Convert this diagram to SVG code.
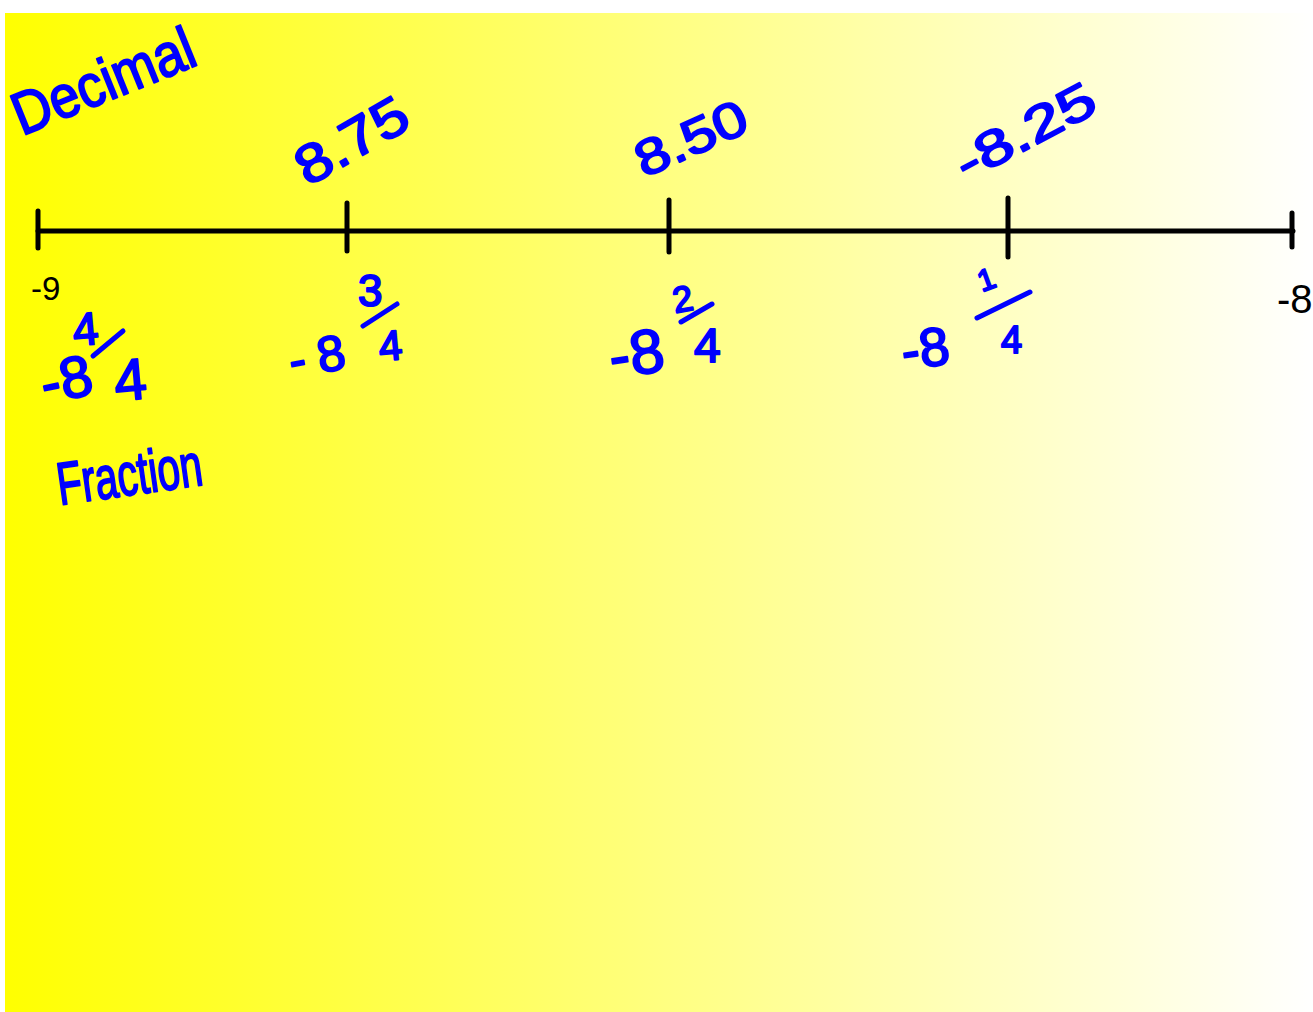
<svg xmlns="http://www.w3.org/2000/svg" width="1313" height="1012" viewBox="0 0 1313 1012">
<defs>
<linearGradient id="bg" x1="0" y1="0" x2="1" y2="0">
<stop offset="0" stop-color="#FFFF00"/>
<stop offset="1" stop-color="#FFFFFF"/>
</linearGradient>
</defs>
<style>
.hw{font-family:"Liberation Sans",Arial,sans-serif;fill:#0000FF;stroke:#0000FF;stroke-width:2;stroke-linejoin:round}
.bar{stroke:#0000FF;stroke-width:5;stroke-linecap:round;fill:none}
.axis{stroke:#000;stroke-width:5;stroke-linecap:round;fill:none}
.lbl{font-family:"Liberation Sans",Arial,sans-serif;fill:#000}
</style>
<rect x="0" y="0" width="1313" height="1012" fill="#FFFFFF"/>
<rect x="5" y="13" width="1308" height="999" fill="url(#bg)"/>
<g id="number-line">
<line class="axis" x1="38" y1="231" x2="1293" y2="231"/>
<line class="axis" x1="38" y1="211" x2="38" y2="248"/>
<line class="axis" x1="347" y1="203" x2="347" y2="251"/>
<line class="axis" x1="669" y1="200" x2="669" y2="252"/>
<line class="axis" x1="1008" y1="198" x2="1008" y2="257"/>
<line class="axis" x1="1292" y1="213" x2="1292" y2="247"/>
<text class="lbl" font-size="33" x="31" y="300">-9</text>
<text class="lbl" font-size="40" x="1277" y="313">-8</text>
</g>
<g id="decimal-title">
<text class="hw" font-size="60" transform="translate(22,136) rotate(-22)" textLength="192" lengthAdjust="spacingAndGlyphs">Decimal</text>
</g>
<g id="decimal-labels">
<text class="hw" font-size="54" transform="translate(308,187) rotate(-30)" textLength="122" lengthAdjust="spacingAndGlyphs">8.75</text>
<text class="hw" font-size="50" transform="translate(644,178) rotate(-24)" textLength="118" lengthAdjust="spacingAndGlyphs">8.50</text>
<text class="hw" font-size="50" transform="translate(966,182) rotate(-28)" textLength="152" lengthAdjust="spacingAndGlyphs">-8.25</text>
</g>
<g id="fraction-labels">
<g id="f-8-4-4">
<text class="hw" font-size="58" transform="translate(45,404) rotate(-12)">-8</text>
<text class="hw" font-size="46" transform="translate(74,346) rotate(-5)">4</text>
<line class="bar" x1="93" y1="356" x2="123" y2="331"/>
<text class="hw" font-size="58" transform="translate(116,401) rotate(-5)">4</text>
</g>
<g id="f-8-3-4">
<text class="hw" font-size="50" letter-spacing="12" transform="translate(292,378) rotate(-10)">-8</text>
<text class="hw" font-size="44" x="358" y="306">3</text>
<line class="bar" x1="363" y1="326" x2="397" y2="304"/>
<text class="hw" font-size="42" transform="translate(380,361) rotate(-5)">4</text>
</g>
<g id="f-8-2-4">
<text class="hw" font-size="62" transform="translate(612,378) rotate(-8)">-8</text>
<text class="hw" font-size="36" transform="translate(675,313) rotate(-10)">2</text>
<line class="bar" x1="681" y1="322" x2="712" y2="304"/>
<text class="hw" font-size="48" x="694" y="362">4</text>
</g>
<g id="f-8-1-4">
<text class="hw" font-size="54" transform="translate(904,370) rotate(-8)">-8</text>
<text class="hw" font-size="30" transform="translate(982,292) rotate(-20)">1</text>
<line class="bar" x1="977" y1="318" x2="1030" y2="292"/>
<text class="hw" font-size="38" x="1001" y="353">4</text>
</g>
</g>
<g id="fraction-title">
<text class="hw" font-size="60" transform="translate(60,505) rotate(-8)" textLength="146" lengthAdjust="spacingAndGlyphs">Fraction</text>
</g>
</svg>
